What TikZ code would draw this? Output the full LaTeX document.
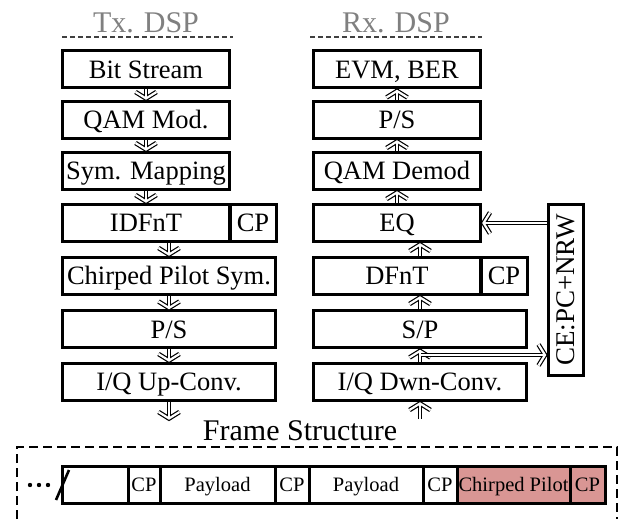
\documentclass[tikz,border=0pt]{standalone}
\usepackage{fontspec}
\setmainfont{Liberation Serif}
\usepackage{graphicx}
\usetikzlibrary{decorations.markings}
\definecolor{pilot}{RGB}{217,150,148}
\definecolor{ttlgray}{RGB}{128,128,128}
\begin{document}
\begin{tikzpicture}[x=1pt,y=-1pt,
 blk/.style={draw, line width=3pt, inner sep=0pt, minimum height=37pt, text height=17.5pt, text depth=0pt, font=\fontsize{26.5}{30}\selectfont},
 narrow/.style={blk, minimum width=167pt},
 wide/.style={blk, minimum width=213pt},
 cpbox/.style={blk, minimum width=46pt},
 dbl/.style={double=white, double distance=2.2pt, line width=1.2pt},
 arr/.style={dbl, postaction={decorate, decoration={markings, mark=at position 1 with {
    \draw[dbl, miter limit=20] (-8pt,10.5pt) -- (-1.5pt,0pt) -- (-8pt,-10.5pt);
    \draw[white, line width=2.2pt] (-7pt,0pt) -- (-2.5pt,0pt);}}}},
 ttl/.style={text=ttlgray, inner sep=0pt, text height=20pt, text depth=0pt, font=\fontsize{30}{34}\selectfont},
 tdash/.style={line width=2pt, black!75, dash pattern=on 5pt off 3pt},
 cell/.style={draw, line width=3pt, inner sep=0pt, outer sep=0pt, minimum height=37pt, text height=13.6pt, text depth=0pt, font=\fontsize{20.5}{24}\selectfont},
]
\useasboundingbox (0,0) rectangle (624,521);

% titles
\node[ttl] (txt) at (146,23) {Tx. DSP};
\node[ttl] (rxt) at (396,23) {Rx. DSP};
\draw[tdash] (62,37) -- (233,37);
\draw[tdash] (310,37) -- (482,37);

% Tx chain
\node[narrow] (bit) at (146,69.5) {Bit Stream};
\node[narrow] (qam) at (146,120) {QAM Mod.};
\node[narrow] (sym) at (146,171) {Sym. Mapping};
\node[narrow] (idf) at (146,223) {IDFnT};
\node[cpbox] (idfcp) at (253,223) {CP};
\node[wide] (chp) at (169,276) {Chirped Pilot Sym.};
\node[wide] (tps) at (169,329.5) {P/S};
\node[wide] (upc) at (169,382) {I/Q Up-Conv.};
\coordinate (txout) at (169,420);

\draw[arr] (bit) -- (qam);
\draw[arr] (qam) -- (sym);
\draw[arr] (sym) -- (idf);
\draw[arr] (chp.north |- idf.south) -- (chp);
\draw[arr] (chp) -- (tps);
\draw[arr] (tps) -- (upc);
\draw[arr] (upc) -- (txout);

% Rx chain
\node[narrow] (evm) at (397,69.5) {EVM, BER};
\node[narrow] (rps) at (397,120) {P/S};
\node[narrow] (dem) at (397,171) {QAM Demod};
\node[narrow] (eq) at (397,223) {EQ};
\node[narrow] (dfn) at (397,276) {DFnT};
\node[cpbox] (dfncp) at (504,276) {CP};
\node[wide] (sp) at (420,329.5) {S/P};
\node[wide] (dwn) at (420,382) {I/Q Dwn-Conv.};
\coordinate (rxin) at (420,419);
\coordinate (br) at (420,355);

\node[draw, line width=3pt, inner sep=0pt, minimum width=35pt, minimum height=170pt] (ce) at (565.5,290)
  {\rotatebox{90}{\fontsize{27}{30}\selectfont CE:PC+NRW}};

\draw[arr] (rxin) -- (dwn);
\draw[arr] (dwn) -- (sp);
\draw[arr] (br) -- (br -| ce.west);
\draw[white, line width=2.2pt] (420,350) -- (420,360);
\draw[white, line width=2.2pt] (420,355) -- (426,355);
\draw[arr] (sp.north) -- (sp.north |- dfn.south);
\draw[arr] (sp.north |- dfn.north) -- (sp.north |- eq.south);
\draw[arr] (eq) -- (dem);
\draw[arr] (dem) -- (rps);
\draw[arr] (rps) -- (evm);
\draw[arr] (ce.west |- eq.east) -- (eq.east);

% frame structure
\node[inner sep=0pt, text height=20pt, text depth=0pt, font=\fontsize{30}{34}\selectfont] (fs) at (300,430) {Frame Structure};
\draw[line width=2pt, dash pattern=on 9pt off 5pt] (17,519) -- (17,447) -- (617,447) -- (617,519);

\node[cell, minimum width=66pt] (c0) at (95,484.5) {};
\node[cell, minimum width=32pt] (c1) at (144,484.5) {CP};
\node[cell, minimum width=115pt] (c2) at (217.5,484.5) {Payload};
\node[cell, minimum width=34pt] (c3) at (292,484.5) {CP};
\node[cell, minimum width=114pt] (c4) at (366,484.5) {Payload};
\node[cell, minimum width=34pt] (c5) at (440,484.5) {CP};
\node[cell, fill=pilot, minimum width=113pt] (c6) at (513.5,484.5) {Chirped Pilot};
\node[cell, fill=pilot, minimum width=35pt] (c7) at (587.5,484.5) {CP};

\draw[line width=2.6pt] (56,500) -- (69,470);
\fill (30,485) circle (2.2pt);
\fill (39,485) circle (2.2pt);
\fill (48,485) circle (2.2pt);
\end{tikzpicture}
\end{document}
